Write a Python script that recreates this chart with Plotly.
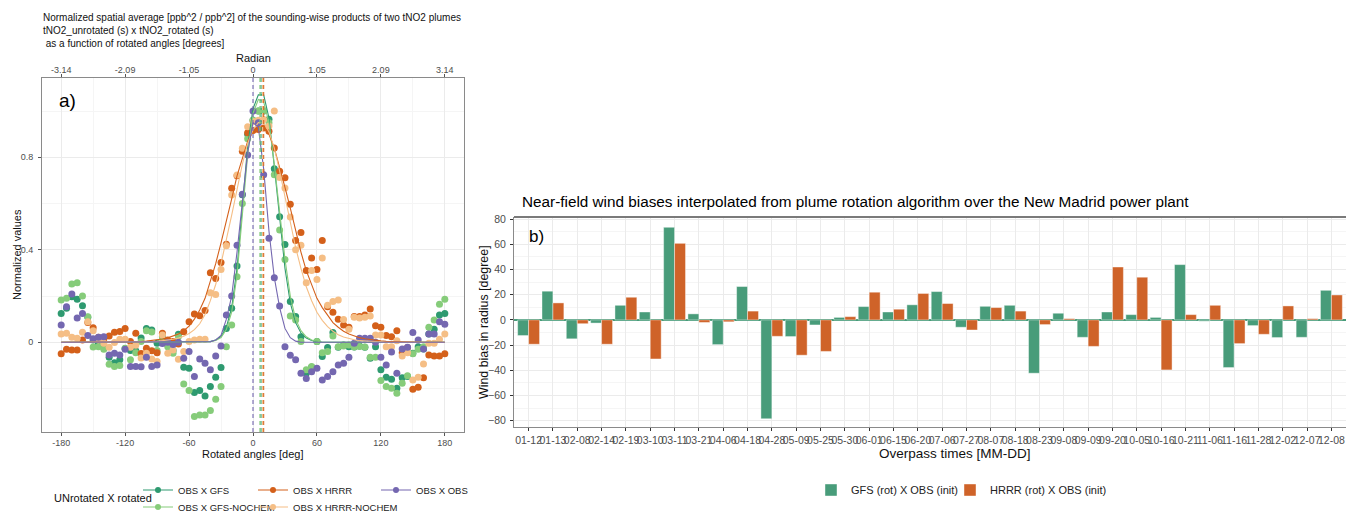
import plotly.graph_objects as go

W, H = 1346, 513

# ---------------- Panel a) data ----------------
angles = list(range(-180, 181, 5))
radian_labels = ['-3.14', '-2.09', '-1.05', '0', '1.05', '2.09', '3.14']
angle_ticks = [-180, -120, -60, 0, 60, 120, 180]

obs_pts = [0.075, 0.154, 0.209, 0.105, 0.125, 0.029, 0.015, 0.022, 0.024, -0.055,
           -0.047, -0.055, -0.03, -0.105, -0.105, -0.106, -0.065, -0.105, -0.098, -0.005,
           0.0, -0.01, 0.0, -0.069, -0.04, -0.148, -0.072, -0.091, -0.119, -0.059,
           -0.016, 0.118, 0.2, 0.42, 0.64, 0.81, 1.0, 0.95, 0.725, 0.45,
           0.279, 0.157, -0.019, -0.056, -0.076, -0.134, -0.157, -0.127, -0.112, -0.163,
           -0.148, -0.127, -0.098, -0.091, -0.065, -0.004, 0.017, 0.017, 0.017, 0.0,
           -0.065, -0.098, -0.042, -0.134, -0.029, -0.022, 0.042, 0.01, -0.029, 0.036,
           0.036, 0.089, 0.078]
gfs_pts = [0.125, 0.147, 0.197, 0.186, 0.158, 0.108, 0.01, -0.005, -0.016, -0.065,
           -0.088, -0.076, -0.027, -0.036, -0.037, 0.019, 0.06, 0.053, -0.004, 0.024,
           -0.007, -0.036, 0.035, -0.108, -0.112, -0.217, -0.209, -0.232, -0.191, -0.151,
           -0.109, 0.06, 0.147, 0.33, 0.638, 0.9, 0.96, 1.0, 1.0, 0.965,
           0.75, 0.543, 0.423, 0.176, 0.111, 0.024, -0.134, -0.108, 0.003, -0.062,
           -0.023, 0.042, -0.022, -0.012, -0.019, -0.02, -0.016, -0.022, -0.069, -0.019,
           -0.119, -0.151, -0.16, -0.199, -0.153, -0.148, -0.047, -0.019, -0.029, 0.036,
           0.056, 0.118, 0.125]
gfs_nochem_pts = [0.183, 0.19, 0.252, 0.258, 0.2, 0.11, -0.02, -0.019, -0.03, -0.095,
                  -0.105, -0.1, -0.026, -0.076, -0.045, 0.003, 0.05, 0.045, -0.035, 0.015,
                  -0.019, -0.047, 0.025, -0.18, -0.209, -0.321, -0.314, -0.314, -0.295, -0.246,
                  -0.191, -0.019, 0.075, 0.283, 0.6, 0.88, 0.96, 1.0, 1.0, 0.95,
                  0.725, 0.486, 0.358, 0.114, 0.096, 0.003, -0.119, -0.105, 0.003, -0.045,
                  -0.04, 0.027, -0.019, -0.016, -0.012, -0.02, -0.018, -0.02, -0.065, -0.065,
                  -0.165, -0.191, -0.199, -0.22, -0.177, -0.145, -0.05, -0.03, -0.019, 0.065,
                  0.096, 0.164, 0.186]
hrrr_pts = [-0.05, -0.03, -0.033, -0.033, 0.01, 0.086, 0.063, 0.022, 0.014, 0.027,
            0.043, 0.047, 0.06, 0.003, 0.039, -0.049, -0.026, -0.037, -0.045, 0.039,
            0.01, 0.003, -0.007, 0.046, 0.089, 0.122, 0.115, 0.137, 0.301, 0.276,
            0.345, 0.424, 0.666, 0.72, 0.826, 0.906, 0.916, 0.92, 0.927, 0.913,
            0.84, 0.74, 0.712, 0.597, 0.44, 0.475, 0.31, 0.365, 0.315, 0.44,
            0.154, 0.13, 0.1, 0.075, 0.065, 0.111, 0.111, 0.118, 0.144, 0.071,
            0.065, 0.029, 0.024, 0.05, -0.045, -0.023, -0.203, -0.194, -0.153, -0.055,
            -0.059, -0.059, -0.05]
hrrr_nochem_pts = [0.036, 0.039, 0.022, 0.017, 0.043, 0.089, 0.05, 0.01, -0.004, -0.022,
                   -0.001, 0.013, 0.013, -0.022, -0.013, -0.068, -0.047, -0.072, -0.083, 0.032,
                   -0.047, -0.033, -0.073, -0.04, 0.003, 0.01, 0.013, 0.013, 0.214, 0.207,
                   0.315, 0.417, 0.637, 0.723, 0.839, 0.932, 0.955, 0.96, 0.964, 0.935,
                   1.0, 0.713, 0.667, 0.542, 0.4, 0.42, 0.258, 0.31, 0.272, 0.365,
                   0.16, 0.176, 0.183, 0.099, 0.056, 0.108, 0.105, 0.108, 0.114, 0.032,
                   0.032, -0.019, -0.019, 0.007, -0.059, -0.045, -0.163, -0.151, -0.094, -0.004,
                   -0.004, 0.013, 0.036]

# fitted curves (same angle grid)
fit_obs = [0] * 28 + [0.003, 0.01, 0.03, 0.1, 0.2, 0.39, 0.61, 0.82, 0.95, 0.93,
                      0.75, 0.48, 0.28, 0.15, 0.06, 0.02, 0.005] + [0] * 28
fit_gfs = [0] * 28 + [0.003, 0.01, 0.025, 0.065, 0.15, 0.32, 0.58, 0.85, 1.01, 1.07,
                      1.07, 0.97, 0.76, 0.53, 0.32, 0.17, 0.085,
                      0.04, 0.018, 0.008, 0.003] + [0] * 24
fit_gfs_nochem = [0] * 28 + [0.003, 0.008, 0.02, 0.055, 0.13, 0.29, 0.54, 0.81, 0.99, 1.05,
                             1.04, 0.95, 0.77, 0.56, 0.36, 0.2, 0.1,
                             0.05, 0.024, 0.01, 0.004] + [0] * 24
fit_hrrr = [0] * 14 + [0.002, 0.003, 0.005, 0.007, 0.01, 0.014, 0.019, 0.026, 0.036, 0.05,
                       0.07, 0.1, 0.14, 0.19, 0.26, 0.34, 0.43, 0.52, 0.62, 0.72,
                       0.8, 0.87, 0.91, 0.93, 0.93, 0.9, 0.84, 0.76, 0.67, 0.58,
                       0.48, 0.39, 0.31, 0.25, 0.19, 0.15, 0.115, 0.085, 0.065, 0.048,
                       0.036, 0.027, 0.02, 0.015, 0.011, 0.008, 0.006, 0.004, 0.003, 0.002,
                       0.001] + [0] * 8
fit_hrrr_nochem = [0] * 16 + [0.002, 0.003, 0.004, 0.006, 0.009, 0.013, 0.018, 0.026, 0.038, 0.055,
                              0.08, 0.12, 0.18, 0.25, 0.34, 0.44, 0.55, 0.66, 0.77, 0.86,
                              0.92, 0.95, 0.95, 0.91, 0.84, 0.74, 0.63, 0.52, 0.41, 0.32,
                              0.24, 0.18, 0.13, 0.095, 0.068, 0.048, 0.033, 0.023, 0.016, 0.011,
                              0.007, 0.005, 0.003, 0.002, 0.001] + [0] * 12

# fitted centres (dashed vertical lines), degrees
center_obs = 0.0
center_gfs = 7.5
center_gfs_nochem = 6.5
center_hrrr = 10.0
center_hrrr_nochem = 9.0

for arr in [obs_pts, gfs_pts, gfs_nochem_pts, hrrr_pts, hrrr_nochem_pts,
            fit_obs, fit_gfs, fit_gfs_nochem, fit_hrrr, fit_hrrr_nochem]:
    assert len(arr) == len(angles), len(arr)

# ---------------- Panel b) data ----------------
dates = ['01-12', '01-13', '02-08', '02-14', '02-19', '03-10', '03-11', '03-21', '04-06', '04-18',
         '04-28', '05-09', '05-25', '05-30', '06-01', '06-15', '06-20', '07-06', '07-27', '08-07',
         '08-18', '08-23', '09-08', '09-09', '09-20', '10-05', '10-16', '10-21', '11-06', '11-16',
         '11-28', '12-02', '12-07', '12-08']
gfs_bias = [-12.4, 22.8, -15.0, -2.5, 11.6, 6.3, 73.5, 4.8, -19.6, 26.5,
            -78.5, -13.2, -4.0, 2.0, 10.6, 6.3, 12.0, 22.5, -5.8, 10.8,
            11.6, -42.3, 5.3, -13.8, 6.3, 4.2, 2.0, 43.9, -1.0, -37.8,
            -4.5, -14.0, -13.8, 23.5]
hrrr_bias = [-19.3, 13.5, -3.0, -19.3, 18.0, -31.0, 60.8, -2.0, -1.5, 7.0,
             -13.0, -28.0, -25.0, 2.6, 22.0, 8.5, 21.0, 13.0, -8.0, 9.8,
             7.0, -3.7, 1.0, -21.0, 42.0, 33.9, -39.7, 4.2, 11.6, -18.8,
             -11.4, 11.1, 1.0, 19.8]
assert len(gfs_bias) == len(dates) == len(hrrr_bias)

# ---------------- styling ----------------
FONT = 'Liberation Sans'
C_GFS = '#2e9a70'
C_GFSN = '#86cc7a'
C_HRRR = '#d4601a'
C_HRRRN = '#f5be85'
C_OBS = '#7467b0'
BAR_G = '#489c7a'
BAR_O = '#cf6329'
GRID = '#ebebeb'
GRID_MINOR = '#f5f5f5'
TICKC = '#4d4d4d'


def px(x):
    return x / W


def py(y):
    return (H - y) / H


# name, points, fit, centre, colour, legend id, legend key position (px)
series = [
    ('OBS X GFS', gfs_pts, fit_gfs, center_gfs, C_GFS, 'legend', (160, 490)),
    ('OBS X GFS-NOCHEM', gfs_nochem_pts, fit_gfs_nochem, center_gfs_nochem, C_GFSN, 'legend2', (160, 507)),
    ('OBS X HRRR', hrrr_pts, fit_hrrr, center_hrrr, C_HRRR, 'legend3', (275, 490)),
    ('OBS X HRRR-NOCHEM', hrrr_nochem_pts, fit_hrrr_nochem, center_hrrr_nochem, C_HRRRN, 'legend4', (275, 507)),
    ('OBS X OBS', obs_pts, fit_obs, center_obs, C_OBS, 'legend5', (398, 490)),
]

fig = go.Figure()

for name, pts, fit, c, col, lg, pos in series:
    fig.add_trace(go.Scatter(x=angles, y=pts, mode='markers', name=name,
                             marker=dict(color=col, size=7, line=dict(width=0)),
                             showlegend=False, xaxis='x', yaxis='y'))
for name, pts, fit, c, col, lg, pos in series:
    fig.add_trace(go.Scatter(x=angles, y=fit, mode='lines', name=name,
                             line=dict(color=col, width=1.1),
                             showlegend=False, xaxis='x', yaxis='y'))
    fig.add_shape(type='line', xref='x', yref='y domain', x0=c, x1=c, y0=0, y1=1,
                  line=dict(color=col, width=1.1, dash='4px,3px'))
# legend entries
for name, pts, fit, c, col, lg, pos in series:
    fig.add_trace(go.Scatter(x=[None], y=[None], mode='lines+markers', name=name,
                             marker=dict(color=col, size=6), line=dict(color=col, width=1.1),
                             legend=lg, xaxis='x', yaxis='y'))

# invisible trace for the top radian axis
fig.add_trace(go.Scatter(x=[None], y=[None], xaxis='x3', yaxis='y', showlegend=False))

# bars
fig.add_trace(go.Bar(x=dates, y=gfs_bias, name='GFS (rot) X OBS (init)',
                     marker=dict(color=BAR_G, line=dict(color='rgba(255,255,255,0.7)', width=0.6)),
                     xaxis='x2', yaxis='y2', legend='legend6', legendwidth=94))
fig.add_trace(go.Bar(x=dates, y=hrrr_bias, name='HRRR (rot) X OBS (init)',
                     marker=dict(color=BAR_O, line=dict(color='rgba(255,255,255,0.7)', width=0.6)),
                     xaxis='x2', yaxis='y2', legend='legend6', legendwidth=140))

axis_common = dict(showline=True, linecolor='#8a8a8a', linewidth=1, ticks='outside', ticklen=3,
                   tickcolor='#555555', tickfont=dict(family=FONT, size=9, color=TICKC),
                   gridcolor=GRID, gridwidth=1, zeroline=False, automargin=False)

legend_defs = {}
for name, pts, fit, c, col, lg, pos in series:
    legend_defs[lg] = dict(orientation='h', x=px(pos[0] - 22), y=py(pos[1]), xanchor='left',
                           yanchor='middle', font=dict(family=FONT, size=9.5, color='#222222'),
                           bgcolor='rgba(0,0,0,0)', itemwidth=30, tracegroupgap=0)
legend_defs['legend6'] = dict(orientation='h', x=px(811), y=py(490), xanchor='left', yanchor='middle',
                              font=dict(family=FONT, size=11, color='#222222'), bgcolor='rgba(0,0,0,0)',
                              itemwidth=30, tracegroupgap=0, traceorder='normal')

fig.update_layout(
    width=W, height=H, template='none',
    margin=dict(l=0, r=0, t=0, b=0, pad=0, autoexpand=False),
    paper_bgcolor='white', plot_bgcolor='white',
    font=dict(family=FONT, color='black'),
    barmode='group', bargap=0.1, bargroupgap=0,
    xaxis=dict(domain=[px(42), px(464)], anchor='y', range=[-198, 198],
               tickmode='array', tickvals=angle_ticks, ticktext=[str(v) for v in angle_ticks],
               mirror=True, showgrid=True, ticklabelstandoff=-1,
               minor=dict(dtick=30, tick0=-180, showgrid=True, gridcolor=GRID_MINOR, ticklen=0),
               **axis_common),
    xaxis3=dict(overlaying='x', side='top', anchor='y', range=[-198, 198], tickmode='array',
                tickvals=angle_ticks, ticktext=radian_labels, showgrid=False, showline=False,
                ticks='outside', ticklen=3, tickcolor='#555555', zeroline=False, automargin=False,
                ticklabelstandoff=-3,
                tickfont=dict(family=FONT, size=9, color=TICKC)),
    yaxis=dict(domain=[py(432), py(78)], anchor='x', range=[-0.388, 1.143],
               tickmode='array', tickvals=[0, 0.4, 0.8], ticktext=['0', '0.4', '0.8'],
               mirror=True, showgrid=True, ticklabelstandoff=3,
               minor=dict(tickvals=[-0.2, 0.2, 0.6, 1.0], showgrid=True, gridcolor=GRID_MINOR, ticklen=0),
               **axis_common),
    xaxis2=dict(domain=[px(514), 1.0], anchor='y2', type='category', range=[-0.6, 33.6],
                tickmode='array', tickvals=dates, tickangle=0, showgrid=True,
                showline=True, linecolor='#8a8a8a', linewidth=1, ticks='outside', ticklen=3,
                tickcolor='#333333', tickfont=dict(family=FONT, size=10.5, color=TICKC),
                ticklabelstandoff=0,
                gridcolor=GRID, zeroline=False, automargin=False),
    yaxis2=dict(domain=[py(427), py(217)], anchor='x2', range=[-85, 81.7],
                tickmode='array', tickvals=[-80, -60, -40, -20, 0, 20, 40, 60, 80],
                showgrid=True, gridcolor=GRID,
                minor=dict(tickvals=[-70, -50, -30, -10, 10, 30, 50, 70], showgrid=True,
                           gridcolor=GRID_MINOR, ticklen=0),
                showline=True, linecolor='#8a8a8a', linewidth=1, ticks='outside', ticklen=3,
                tickcolor='#333333', tickfont=dict(family=FONT, size=10.5, color=TICKC),
                ticklabelstandoff=2,
                zeroline=True, zerolinecolor=BAR_G, zerolinewidth=1.6, automargin=False),
    **legend_defs,
)

# top border of panel b
fig.add_shape(type='line', xref='x2 domain', yref='y2 domain', x0=0, x1=1, y0=1, y1=1,
              line=dict(color='#7a7a7a', width=2))

ann = []
ann.append(dict(text='Normalized spatial average [ppb^2 / ppb^2] of the sounding-wise products of two tNO2 plumes'
                     '<br>tNO2_unrotated (s) x tNO2_rotated (s)<br> as a function of rotated angles [degrees]',
                x=px(41), y=py(10), xanchor='left', yanchor='top', align='left',
                font=dict(size=10, color='#111111')))
ann.append(dict(text='Radian', x=px(253), y=py(58), xanchor='center', yanchor='middle',
                font=dict(size=11, color='#111111')))
ann.append(dict(text='a)', x=px(57), y=py(100), xanchor='left', yanchor='middle',
                font=dict(size=19, color='black')))
ann.append(dict(text='Normalized values', x=px(17), y=py(255), textangle=-90,
                xanchor='center', yanchor='middle', font=dict(size=11, color='#111111')))
ann.append(dict(text='Rotated angles [deg]', x=px(253), y=py(454), xanchor='center', yanchor='middle',
                font=dict(size=11, color='#111111')))
ann.append(dict(text='UNrotated X rotated', x=px(52), y=py(498), xanchor='left', yanchor='middle',
                font=dict(size=11, color='#111111')))
ann.append(dict(text='Near-field wind biases interpolated from plume rotation algorithm over the New Madrid power plant',
                x=px(520), y=py(201), xanchor='left', yanchor='middle', font=dict(size=15.3, color='black')))
ann.append(dict(text='b)', x=px(527), y=py(236), xanchor='left', yanchor='middle',
                font=dict(size=17, color='black')))
ann.append(dict(text='Wind bias in radius [degree]', x=px(484), y=py(322), textangle=-90,
                xanchor='center', yanchor='middle', font=dict(size=12.4, color='#111111')))
ann.append(dict(text='Overpass times [MM-DD]', x=px(955), y=py(453), xanchor='center', yanchor='middle',
                font=dict(size=13.5, color='#111111')))
for a in ann:
    a.update(xref='paper', yref='paper', showarrow=False)
    a['font']['family'] = FONT
fig.update_layout(annotations=ann)

fig.write_html('out.html')
